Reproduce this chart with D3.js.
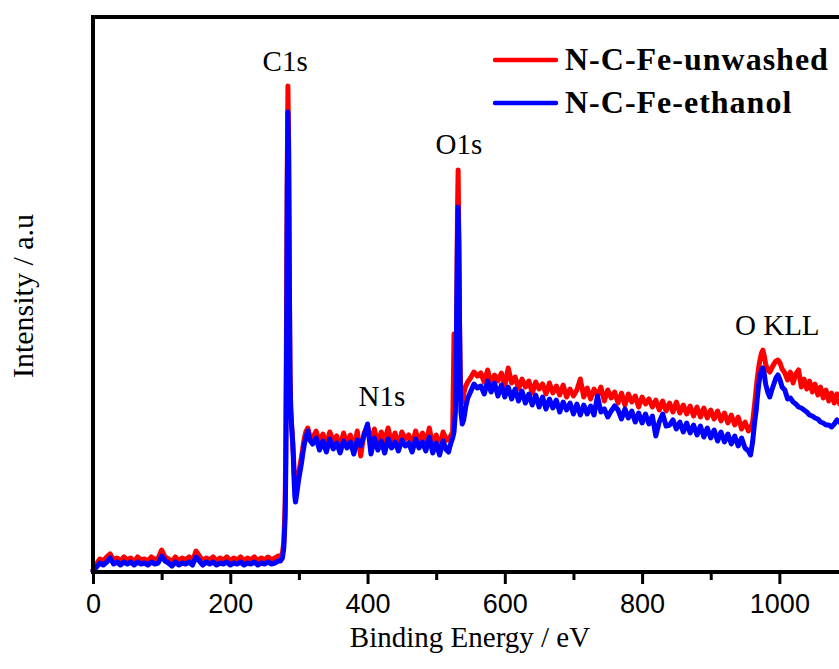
<!DOCTYPE html>
<html>
<head>
<meta charset="utf-8">
<script src="https://cdn.jsdelivr.net/npm/d3@7/dist/d3.min.js"></script>
<style>
  html, body { margin: 0; padding: 0; background: #fff; }
  svg { display: block; }
</style>
</head>
<body>
<div id="chart"></div>
<script>
// XPS survey spectra: binding energy (eV) and intensity (a.u.)
const energy = [
  0,5,10,15,20,25,30,35,40,45,50,55,60,65,70,75,80,85,90,95,
  100,105,110,115,120,125,130,135,140,145,150,155,160,165,170,175,180,185,190,195,
  200,205,210,215,220,225,230,235,240,245,250,255,260,265,270,
  273,276,278,280,281,282,283,284,285,286,287,288,289,290,291,292,293,294,295,296,
  298,300,302,304,306,308,310,313,316,320,
  325,330,335,340,345,350,355,360,365,370,375,380,385,390,395,400,405,410,415,420,
  425,430,435,440,445,450,455,460,465,470,475,480,485,490,495,500,505,510,515,
  518,521,524,526,528,529,530,531,532,533,534,535,536,538,540,543,546,550,555,560,
  565,570,575,580,585,590,595,600,605,610,615,620,625,630,635,640,645,650,655,660,
  665,670,675,680,685,690,695,700,705,710,715,720,725,730,735,740,745,750,755,760,
  765,770,775,780,785,790,795,800,805,810,815,820,825,830,835,840,845,850,855,860,
  865,870,875,880,885,890,895,900,905,910,915,920,925,930,935,940,945,950,955,
  958,961,964,966,968,970,972,974,976,978,980,983,986,989,992,995,998,1001,1004,
  1008,1012,1016,1020,1024,1028,1032,1036,1040,1044,1048,1052,1056,1060,1064,1068,1072,1076,1080,1084,
  1088,1092,1096,1100
];

const unwashed = [
  2,8,13,11,15,18,12,14,11,15,12,14,10,15,12,13,11,15,12,14,
  22,15,13,10,15,11,14,12,15,11,21,16,11,14,12,15,11,14,12,15,
  11,14,12,15,11,14,12,15,11,14,12,15,12,14,16,
  15,19,30,70,140,260,400,486,430,300,200,165,150,140,130,118,100,88,84,86,
  92,100,108,116,126,134,140,144,136,134,
  141,129,138,127,140,131,136,125,139,128,137,122,141,116,139,146,130,143,127,140,
  131,144,128,139,126,140,133,137,127,141,130,139,128,144,126,137,124,140,132,
  132,136,140,238,170,200,260,360,402,330,250,200,175,170,178,186,190,194,200,196,
  199,190,202,188,197,191,199,186,204,189,195,183,193,185,191,179,190,183,188,178,
  189,179,186,177,187,175,183,176,182,193,175,184,173,183,176,185,171,182,174,180,
  169,179,167,178,170,176,165,175,168,173,165,172,162,171,161,169,160,170,159,167,
  158,166,156,165,155,164,154,162,153,161,151,159,149,157,147,155,143,150,141,
  143,150,168,182,195,205,213,219,222,216,208,202,200,204,208,211,212,209,203,
  199,192,200,189,198,202,185,193,183,191,180,188,177,185,174,182,171,179,169,178,
  168,176,167,174
];

const ethanol = [
  1,5,9,7,10,14,8,10,7,10,8,10,7,10,8,9,7,10,8,9,
  16,11,9,6,10,7,9,8,10,7,15,11,7,10,8,10,7,9,8,10,
  7,9,8,10,7,9,8,10,7,9,8,10,8,9,11,
  11,14,24,55,110,220,380,460,420,300,200,165,150,140,128,112,92,76,70,74,
  84,94,102,110,120,128,134,141,132,128,
  134,122,131,120,133,123,129,119,131,124,130,118,132,126,137,148,118,134,122,131,
  119,133,124,130,121,132,126,129,120,133,124,130,121,135,119,129,117,131,122,
  120,128,134,140,160,200,270,330,365,330,250,190,160,148,152,165,174,180,188,184,
  186,178,191,180,189,176,187,175,185,173,183,171,181,169,178,167,177,165,175,163,
  173,164,172,160,170,162,169,158,168,157,167,158,166,157,176,160,163,155,161,166,
  162,153,163,154,161,150,159,149,158,148,156,136,150,158,146,147,152,143,150,140,
  149,139,147,137,146,135,144,134,142,131,140,130,138,128,136,126,134,124,121,
  117,130,150,160,175,188,197,202,204,198,188,180,175,182,188,194,197,192,185,
  182,173,174,170,168,165,164,162,160,157,156,154,153,150,149,147,147,145,148,152,
  150,146,152,147
];

const seriesNames = ["N-C-Fe-unwashed", "N-C-Fe-ethanol"];
const seriesColors = ["#ff0000", "#0000ff"];
const majorTicks = [0, 200, 400, 600, 800, 1000];
const minorTicks = [100, 300, 500, 700, 900, 1100];
const peakLabels = ["C1s", "N1s", "O1s", "O KLL"];
const peakEnergies = [280, 421, 533, 997];

const W = 839, H = 669;
const svg = d3.select("#chart").append("svg")
  .attr("width", W).attr("height", H)
  .style("background", "#fff");

const plot = { left: 93, right: 848, top: 17, bottom: 572 };
const x = d3.scaleLinear().domain([0, 1100]).range([plot.left, plot.right]);
const y = d3.scaleLinear().domain([0, 555]).range([plot.bottom, plot.top]);

const rows = energy.map((e, i) => ({ e, a: unwashed[i], b: ethanol[i] }));

const lineA = d3.line().x(d => x(d.e)).y(d => y(d.a));
const lineB = d3.line().x(d => x(d.e)).y(d => y(d.b));

svg.append("path").datum(rows)
  .attr("d", lineA).attr("fill", "none")
  .attr("stroke", seriesColors[0]).attr("stroke-width", 5)
  .attr("stroke-linejoin", "round").attr("stroke-linecap", "round");
svg.append("path").datum(rows)
  .attr("d", lineB).attr("fill", "none")
  .attr("stroke", seriesColors[1]).attr("stroke-width", 5)
  .attr("stroke-linejoin", "round").attr("stroke-linecap", "round");

// Frame: left axis and top border
svg.append("line").attr("x1", plot.left).attr("x2", plot.left)
  .attr("y1", plot.top - 2).attr("y2", plot.bottom + 2)
  .attr("stroke", "#000").attr("stroke-width", 4);
svg.append("line").attr("x1", plot.left - 2).attr("x2", plot.right)
  .attr("y1", plot.top).attr("y2", plot.top)
  .attr("stroke", "#000").attr("stroke-width", 4);

// Bottom axis with major and minor ticks
const axisMajor = d3.axisBottom(x).tickValues(majorTicks).tickSize(12).tickFormat(d3.format("d"));
const axisMinor = d3.axisBottom(x).tickValues(minorTicks).tickSize(8).tickFormat("");

const gMinor = svg.append("g").attr("transform", `translate(0,${plot.bottom})`).call(axisMinor);
gMinor.select(".domain").remove();
gMinor.selectAll(".tick line").attr("stroke", "#000").attr("stroke-width", 3);

const gMajor = svg.append("g").attr("transform", `translate(0,${plot.bottom})`).call(axisMajor);
gMajor.select(".domain").remove();
gMajor.selectAll(".tick line").attr("stroke", "#000").attr("stroke-width", 3);
gMajor.selectAll(".tick text")
  .attr("font-family", "'Liberation Sans', Arial, sans-serif")
  .attr("font-size", 27).attr("fill", "#000").attr("dy", null).attr("y", 41);

svg.append("line").attr("x1", plot.left - 2).attr("x2", plot.right)
  .attr("y1", plot.bottom).attr("y2", plot.bottom)
  .attr("stroke", "#000").attr("stroke-width", 4);

// Axis titles
svg.append("text").attr("x", 470).attr("y", 647)
  .attr("text-anchor", "middle")
  .attr("font-family", "'Liberation Serif', 'Times New Roman', serif")
  .attr("font-size", 29).text("Binding Energy / eV");

svg.append("text")
  .attr("transform", "translate(33,296) rotate(-90)")
  .attr("text-anchor", "middle")
  .attr("font-family", "'Liberation Serif', 'Times New Roman', serif")
  .attr("font-size", 30).text("Intensity / a.u");

// Peak annotations
const labelY = [71, 406, 154, 335];
peakLabels.forEach((t, i) => {
  svg.append("text").attr("x", x(peakEnergies[i])).attr("y", labelY[i])
    .attr("text-anchor", "middle")
    .attr("font-family", "'Liberation Serif', 'Times New Roman', serif")
    .attr("font-size", 29).text(t);
});

// Legend
const legendY = [60, 103];
seriesNames.forEach((name, i) => {
  svg.append("line").attr("x1", 495).attr("x2", 556)
    .attr("y1", legendY[i]).attr("y2", legendY[i])
    .attr("stroke", seriesColors[i]).attr("stroke-width", 4.5).attr("stroke-linecap", "round");
  svg.append("text").attr("x", 565).attr("y", legendY[i] + 10)
    .attr("font-family", "'Liberation Serif', 'Times New Roman', serif")
    .attr("font-weight", "bold").attr("font-size", 32)
    .attr("letter-spacing", 1)
    .text(name);
});
</script>
</body>
</html>
